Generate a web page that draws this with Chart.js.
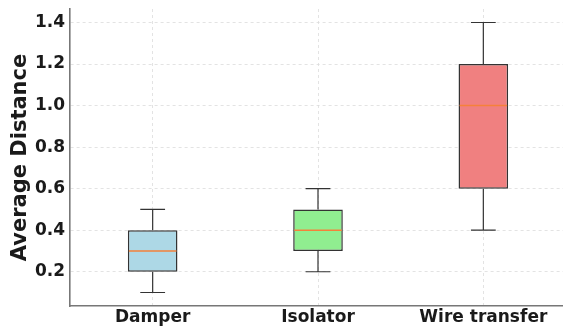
<!DOCTYPE html>
<html lang="en">
<head>
  <meta charset="UTF-8" />
  <title>Average Distance box plot</title>
  <script src="https://cdn.jsdelivr.net/npm/chart.js"></script>
  <style>
    * { box-sizing: border-box; margin: 0; padding: 0; }
    html, body { width: 563px; height: 327px; overflow: hidden; background: #fff; }
    #wrap { width: 566px; height: 327px; position: relative; }
  </style>
</head>
<body>

<div id="wrap"><canvas id="boxChart"></canvas></div>

<script>
  const categories = ['Damper', 'Isolator', 'Wire transfer'];
  const whiskerLow = [0.1, 0.2, 0.4];
  const q1 = [0.2, 0.3, 0.6];
  const medians = [0.3, 0.4, 1.0];
  const q3 = [0.4, 0.5, 1.2];
  const whiskerHigh = [0.5, 0.6, 1.4];
  const yTicks = [0.2, 0.4, 0.6, 0.8, 1.0, 1.2, 1.4];
  const boxColors = ['#add8e6', '#90ee90', '#f08080'];

  const FONT = "'DejaVu Sans', sans-serif";
  const TEXT = '#1a1a1a';

  // whiskers, caps and median lines on top of the floating bars
  const boxPlotExtras = {
    id: 'boxPlotExtras',
    afterDatasetsDraw(chart) {
      const ctx = chart.ctx;
      const y = chart.scales.y;
      const bars = chart.getDatasetMeta(0).data;
      bars.forEach((bar, i) => {
        const cx = bar.x;
        const half = bar.width / 2;
        const capHalf = half / 2;
        ctx.save();
        ctx.strokeStyle = '#333';
        ctx.lineWidth = 1.2;
        ctx.beginPath();
        ctx.moveTo(cx, y.getPixelForValue(q3[i]));
        ctx.lineTo(cx, y.getPixelForValue(whiskerHigh[i]));
        ctx.moveTo(cx, y.getPixelForValue(q1[i]));
        ctx.lineTo(cx, y.getPixelForValue(whiskerLow[i]));
        ctx.moveTo(cx - capHalf, y.getPixelForValue(whiskerHigh[i]));
        ctx.lineTo(cx + capHalf, y.getPixelForValue(whiskerHigh[i]));
        ctx.moveTo(cx - capHalf, y.getPixelForValue(whiskerLow[i]));
        ctx.lineTo(cx + capHalf, y.getPixelForValue(whiskerLow[i]));
        ctx.stroke();
        ctx.strokeStyle = '#f5813a';
        ctx.lineWidth = 1.5;
        ctx.beginPath();
        ctx.moveTo(cx - half + 1, y.getPixelForValue(medians[i]));
        ctx.lineTo(cx + half - 1, y.getPixelForValue(medians[i]));
        ctx.stroke();
        ctx.restore();
      });
    }
  };

  const ctx = document.getElementById('boxChart').getContext('2d');
  new Chart(ctx, {
    type: 'bar',
    data: {
      labels: categories,
      datasets: [{
        data: categories.map((c, i) => [q1[i], q3[i]]),
        backgroundColor: boxColors,
        borderColor: '#333',
        borderWidth: 1.5,
        borderSkipped: false,
        categoryPercentage: 1,
        barPercentage: 0.3
      }]
    },
    options: {
      responsive: true,
      maintainAspectRatio: false,
      animation: false,
      layout: { padding: { top: 9, right: 0, bottom: 0, left: 0 } },
      plugins: {
        legend: { display: false },
        tooltip: { enabled: false }
      },
      scales: {
        x: {
          grid: {
            offset: false,
            color: '#dcdcdc',
            lineWidth: 0.8,
            drawTicks: false
          },
          border: { display: true, color: '#777', width: 1.6, dash: [3, 3] },
          ticks: {
            color: TEXT,
            padding: 1,
            font: { family: FONT, size: 17, weight: 'bold' }
          },
          afterFit(scale) { scale.height = 21; }
        },
        y: {
          min: 0.035,
          max: 1.465,
          grid: {
            color: '#dcdcdc',
            lineWidth: 0.8,
            drawTicks: false
          },
          border: { display: true, color: '#777', width: 1.6, dash: [3, 3] },
          afterBuildTicks(scale) {
            scale.ticks = yTicks.map(v => ({ value: v }));
          },
          ticks: {
            color: TEXT,
            padding: 5,
            font: { family: FONT, size: 17, weight: 'bold' },
            callback: v => Number(v).toFixed(1)
          },
          title: {
            display: true,
            text: 'Average Distance',
            color: TEXT,
            padding: { top: 8, bottom: 0 },
            font: { family: FONT, size: 21, weight: 'bold' }
          },
          afterFit(scale) {
            scale.width = 70;
            scale.paddingTop = 0;
            scale.paddingBottom = 0;
          }
        }
      }
    },
    plugins: [boxPlotExtras]
  });
</script>

</body>
</html>
